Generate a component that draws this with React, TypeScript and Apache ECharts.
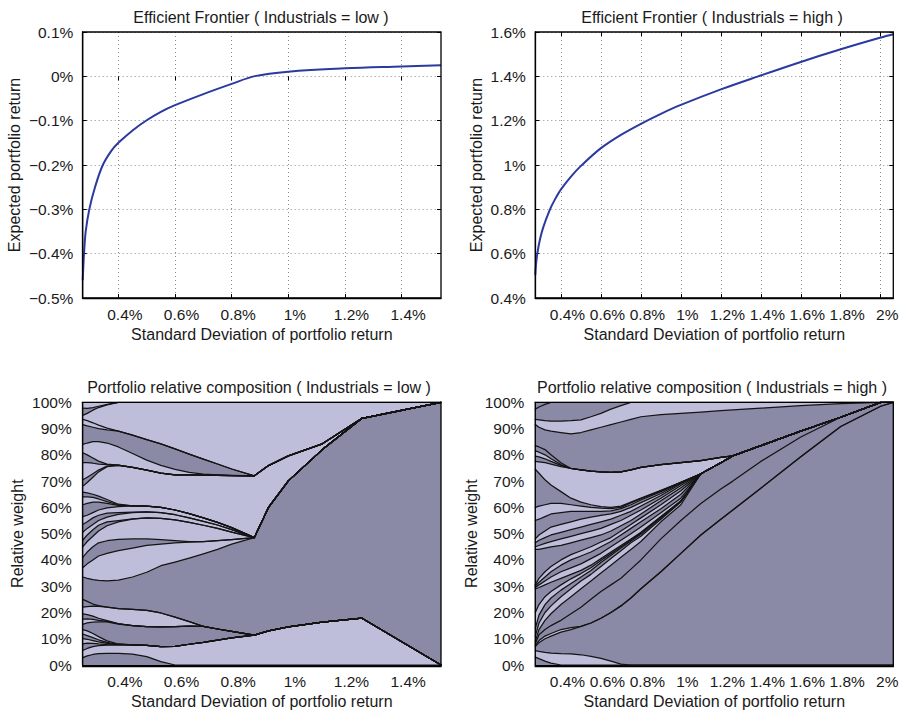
import React, { useEffect, useRef } from 'react';
import * as echarts from 'echarts';

const FONT = '"Liberation Sans", Arial, Helvetica, sans-serif';
const INK = '#1a1a1a';
const LIGHT = '#bebedb';
const DARK = '#8a8aa6';
const CURVE = '#2b3a9e';

// Efficient frontier, Industrials = low  (std dev %, expected return %)
const lowRisk = [0.274, 0.2765, 0.2786, 0.2846, 0.2973, 0.3174, 0.345, 0.375, 0.40, 0.45, 0.50, 0.55, 0.60, 0.70, 0.80, 0.882, 1.0, 1.2, 1.4, 1.539];
const lowReturn = [-0.46, -0.425, -0.40, -0.35, -0.30, -0.25, -0.20, -0.168, -0.150, -0.122, -0.099, -0.080, -0.065, -0.040, -0.017, 0.0005, 0.0105, 0.018, 0.0222, 0.025];

// Efficient frontier, Industrials = high
const highRisk = [0.2715, 0.2755, 0.2815, 0.295, 0.3115, 0.345, 0.37, 0.40, 0.45, 0.50, 0.60, 0.70, 0.80, 0.90, 1.0, 1.2, 1.387, 1.6, 1.8, 2.0, 2.063];
const highReturn = [0.504, 0.555, 0.60, 0.665, 0.72, 0.80, 0.845, 0.89, 0.948, 0.996, 1.076, 1.136, 1.186, 1.231, 1.271, 1.341, 1.40, 1.465, 1.522, 1.575, 1.59];

const lowTicks = [0.4, 0.6, 0.8, 1.0, 1.2, 1.4];
const highTicks = [0.4, 0.6, 0.8, 1.0, 1.2, 1.4, 1.6, 1.8, 2.0];
const lowRange = [0.274, 1.539];
const highRange = [0.2715, 2.063];

// Portfolio composition, Industrials = low: cumulative weight (%) at the top of each asset, bottom to top
const lowSigma = [0.274, 0.29, 0.31, 0.33, 0.36, 0.40, 0.45, 0.50, 0.55, 0.60, 0.65, 0.70, 0.75, 0.80, 0.88, 0.93, 1.00, 1.12, 1.26, 1.539];
const lowShades = ['D', 'L', 'D', 'L', 'D', 'L', 'D', 'L', 'D', 'L', 'D', 'D', 'L', 'D', 'L', 'D', 'L', 'D', 'L', 'D', 'L', 'D', 'L', 'D', 'L', 'D', 'L', 'D', 'L', 'L', 'D', 'L'];
const lowCumWeights = [
  [2.8, 3.5, 4.0, 4.3, 4.4, 4.4, 4.1, 3.2, 1.3, 0, 0, 0, 0, 0, 0, 0, 0, 0, 0, 0],
  [5.5, 6.3, 7.0, 7.4, 7.6, 7.7, 7.7, 7.5, 7.0, 7.1, 7.9, 8.6, 9.5, 10.3, 11.4, 13.0, 14.5, 16.3, 17.8, 0],
  [8.0, 8.3, 8.2, 8.0, 7.8, 7.7, 7.7, 7.5, 7.0, 7.1, 7.9, 8.6, 9.5, 10.3, 11.4, 13.0, 14.5, 16.3, 17.8, 0],
  [10.0, 9.8, 9.3, 8.8, 8.2, 7.8, 7.7, 7.5, 7.0, 7.1, 7.9, 8.6, 9.5, 10.3, 11.4, 13.0, 14.5, 16.3, 17.8, 0],
  [11.8, 11.2, 10.4, 9.6, 8.6, 7.9, 7.7, 7.5, 7.0, 7.1, 7.9, 8.6, 9.5, 10.3, 11.4, 13.0, 14.5, 16.3, 17.8, 0],
  [13.5, 13.0, 12.0, 10.8, 9.2, 8.0, 7.7, 7.5, 7.0, 7.1, 7.9, 8.6, 9.5, 10.3, 11.4, 13.0, 14.5, 16.3, 17.8, 0],
  [15.5, 16.0, 16.3, 16.4, 16.4, 15.6, 15.0, 14.6, 14.5, 14.6, 14.8, 14.7, 13.7, 12.8, 11.4, 13.0, 14.5, 16.3, 17.8, 0],
  [17.5, 17.6, 17.4, 17.0, 16.6, 15.7, 15.0, 14.6, 14.5, 14.6, 14.8, 14.7, 13.7, 12.8, 11.4, 13.0, 14.5, 16.3, 17.8, 0],
  [19.5, 19.2, 18.6, 17.8, 16.9, 15.8, 15.0, 14.6, 14.5, 14.6, 14.8, 14.7, 13.7, 12.8, 11.4, 13.0, 14.5, 16.3, 17.8, 0],
  [22.0, 22.2, 22.4, 22.3, 22.0, 21.5, 21.2, 20.8, 19.8, 18.2, 16.5, 14.7, 13.7, 12.8, 11.4, 13.0, 14.5, 16.3, 17.8, 0],
  [25.0, 24.2, 23.2, 22.6, 22.0, 21.5, 21.2, 20.8, 19.8, 18.2, 16.5, 14.7, 13.7, 12.8, 11.4, 13.0, 14.5, 16.3, 17.8, 0],
  [33.5, 33.0, 32.5, 32.2, 32.0, 32.3, 33.5, 35.3, 37.8, 39.2, 40.7, 42.3, 44.0, 46.0, 48.5, 60.0, 70.1, 82.0, 93.9, 100],
  [37.0, 38.5, 40.0, 41.5, 42.5, 43.5, 44.5, 45.5, 46.0, 46.5, 46.8, 47.0, 47.3, 47.7, 48.5, 60.0, 70.1, 82.0, 93.9, 100],
  [41.0, 43.0, 45.0, 46.5, 47.3, 47.8, 48.0, 48.0, 47.7, 47.3, 47.0, 47.0, 47.3, 47.7, 48.5, 60.0, 70.1, 82.0, 93.9, 100],
  [45.0, 47.0, 49.0, 51.0, 53.0, 54.5, 55.5, 56.0, 55.8, 55.2, 54.3, 53.2, 52.0, 50.6, 48.5, 60.0, 70.1, 82.0, 93.9, 100],
  [47.5, 49.5, 51.5, 53.2, 54.5, 55.0, 55.6, 56.0, 55.8, 55.2, 54.3, 53.2, 52.0, 50.6, 48.5, 60.0, 70.1, 82.0, 93.9, 100],
  [50.5, 52.0, 53.5, 55.0, 56.3, 57.3, 58.0, 58.3, 58.0, 57.2, 56.0, 54.7, 53.3, 51.5, 48.5, 60.0, 70.1, 82.0, 93.9, 100],
  [53.5, 54.5, 56.0, 57.0, 57.8, 58.0, 58.2, 58.3, 58.0, 57.2, 56.0, 54.7, 53.3, 51.5, 48.5, 60.0, 70.1, 82.0, 93.9, 100],
  [56.5, 57.0, 58.0, 59.0, 59.8, 60.3, 60.6, 60.5, 60.0, 59.0, 57.6, 56.0, 54.3, 52.3, 48.5, 60.0, 70.1, 82.0, 93.9, 100],
  [61.0, 61.5, 62.0, 62.0, 61.5, 60.8, 60.6, 60.5, 60.0, 59.0, 57.6, 56.0, 54.3, 52.3, 48.5, 60.0, 70.1, 82.0, 93.9, 100],
  [64.0, 64.0, 63.8, 63.2, 62.2, 61.0, 60.6, 60.5, 60.0, 59.0, 57.6, 56.0, 54.3, 52.3, 48.5, 60.0, 70.1, 82.0, 93.9, 100],
  [65.8, 65.5, 65.0, 64.3, 63.0, 61.2, 60.6, 60.5, 60.0, 59.0, 57.6, 56.0, 54.3, 52.3, 48.5, 60.0, 70.1, 82.0, 93.9, 100],
  [68.0, 69.5, 71.5, 73.5, 75.5, 76.0, 75.2, 74.2, 73.0, 72.4, 72.4, 72.3, 72.2, 72.1, 72.0, 75.9, 79.6, 84.2, 93.9, 100],
  [70.5, 71.5, 72.8, 74.2, 75.7, 76.0, 75.2, 74.2, 73.0, 72.4, 72.4, 72.3, 72.2, 72.1, 72.0, 75.9, 79.6, 84.2, 93.9, 100],
  [77.0, 77.0, 76.8, 76.5, 76.3, 76.1, 75.2, 74.2, 73.0, 72.4, 72.4, 72.3, 72.2, 72.1, 72.0, 75.9, 79.6, 84.2, 93.9, 100],
  [80.8, 80.0, 78.8, 77.6, 76.5, 76.1, 75.2, 74.2, 73.0, 72.4, 72.4, 72.3, 72.2, 72.1, 72.0, 75.9, 79.6, 84.2, 93.9, 100],
  [84.0, 84.5, 85.0, 85.0, 84.5, 83.0, 80.5, 78.0, 76.0, 74.5, 73.3, 72.7, 72.4, 72.2, 72.0, 75.9, 79.6, 84.2, 93.9, 100],
  [91.5, 91.0, 90.5, 90.0, 89.5, 89.0, 87.5, 85.8, 84.2, 82.3, 80.3, 78.4, 76.5, 74.6, 72.0, 75.9, 79.6, 84.2, 93.9, 100],
  [93.5, 93.0, 92.2, 91.3, 90.2, 89.0, 87.5, 85.8, 84.2, 82.3, 80.3, 78.4, 76.5, 74.6, 72.0, 75.9, 79.6, 84.2, 93.9, 100],
  [95.0, 95.8, 97.0, 98.0, 99.0, 100, 100, 100, 100, 100, 100, 100, 100, 100, 100, 100, 100, 100, 100, 100],
  [97.8, 97.7, 98.0, 98.5, 99.2, 100, 100, 100, 100, 100, 100, 100, 100, 100, 100, 100, 100, 100, 100, 100],
  [100, 100, 100, 100, 100, 100, 100, 100, 100, 100, 100, 100, 100, 100, 100, 100, 100, 100, 100, 100],
];

// Portfolio composition, Industrials = high
const highSigma = [0.2715, 0.29, 0.32, 0.35, 0.40, 0.45, 0.50, 0.55, 0.60, 0.65, 0.70, 0.75, 0.80, 0.90, 1.00, 1.10, 1.20, 1.26, 1.40, 1.60, 1.80, 2.00, 2.063];
const highShades = ['D', 'L', 'D', 'L', 'D', 'D', 'L', 'D', 'L', 'D', 'L', 'D', 'L', 'D', 'L', 'D', 'L', 'D', 'L', 'D', 'L', 'D', 'L', 'D', 'D', 'L', 'D', 'D'];
const highCumWeights = [
  [3.0, 2.4, 1.5, 0.7, 0, 0, 0, 0, 0, 0, 0, 0, 0, 0, 0, 0, 0, 0, 0, 0, 0, 0, 0],
  [5.5, 5.2, 4.8, 4.5, 4.3, 4.2, 3.9, 3.3, 2.5, 1.5, 0.3, 0, 0, 0, 0, 0, 0, 0, 0, 0, 0, 0, 0],
  [7.0, 8.5, 10.0, 11.0, 12.5, 13.5, 14.7, 16.0, 17.8, 20.0, 22.5, 25.5, 29.0, 35.5, 42.5, 49.5, 55.5, 59.0, 67.3, 79.3, 90.8, 98.5, 100],
  [7.3, 9.3, 11.0, 12.0, 13.5, 14.2, 14.7, 16.0, 17.8, 20.0, 22.5, 25.5, 29.0, 35.5, 42.5, 49.5, 55.5, 59.0, 67.3, 79.3, 90.8, 98.5, 100],
  [8.0, 11.5, 13.5, 15.0, 17.0, 19.5, 22.0, 25.0, 28.0, 30.5, 33.0, 36.5, 40.0, 48.0, 55.0, 61.5, 67.0, 70.0, 77.5, 86.8, 94.3, 100, 100],
  [9.0, 13.5, 17.0, 19.5, 23.0, 26.0, 29.0, 32.0, 35.0, 38.0, 41.0, 44.0, 47.0, 54.5, 61.0, 72.8, 77.0, 79.6, 83.5, 89.0, 94.3, 100, 100],
  [11.0, 16.0, 20.0, 22.5, 26.0, 29.0, 32.0, 34.5, 37.5, 40.5, 43.5, 46.5, 49.0, 55.5, 62.0, 72.8, 77.0, 79.6, 83.5, 89.0, 94.3, 100, 100],
  [14.0, 19.0, 23.0, 25.5, 28.5, 31.0, 33.5, 36.0, 39.0, 41.8, 44.5, 47.2, 49.8, 56.0, 62.3, 72.8, 77.0, 79.6, 83.5, 89.0, 94.3, 100, 100],
  [20.0, 23.0, 26.0, 28.0, 30.5, 32.8, 34.8, 37.0, 39.8, 42.4, 45.0, 47.6, 50.2, 56.3, 62.4, 72.8, 77.0, 79.6, 83.5, 89.0, 94.3, 100, 100],
  [29.0, 29.5, 30.5, 31.5, 33.0, 34.5, 36.0, 38.0, 40.5, 43.0, 45.5, 48.0, 50.5, 56.5, 62.5, 72.8, 77.0, 79.6, 83.5, 89.0, 94.3, 100, 100],
  [29.5, 30.5, 32.0, 33.5, 35.5, 37.0, 38.5, 40.5, 42.5, 45.0, 47.5, 50.0, 52.5, 58.0, 63.5, 72.8, 77.0, 79.6, 83.5, 89.0, 94.3, 100, 100],
  [30.0, 31.5, 33.5, 35.5, 38.0, 40.0, 41.5, 43.0, 45.0, 47.0, 49.5, 52.0, 54.5, 59.5, 65.0, 72.8, 77.0, 79.6, 83.5, 89.0, 94.3, 100, 100],
  [30.5, 33.0, 35.5, 37.5, 40.0, 42.0, 43.5, 45.0, 46.8, 48.5, 51.0, 53.5, 56.0, 61.0, 66.3, 72.8, 77.0, 79.6, 83.5, 89.0, 94.3, 100, 100],
  [44.0, 44.0, 44.5, 45.0, 45.5, 46.5, 47.5, 48.5, 49.5, 51.0, 53.0, 55.0, 57.5, 62.5, 67.5, 72.8, 77.0, 79.6, 83.5, 89.0, 94.3, 100, 100],
  [45.0, 45.5, 46.3, 47.0, 48.0, 49.0, 50.0, 51.0, 52.0, 53.5, 55.0, 57.0, 59.0, 63.5, 68.3, 72.8, 77.0, 79.6, 83.5, 89.0, 94.3, 100, 100],
  [46.5, 47.5, 48.5, 49.5, 50.5, 51.5, 52.5, 53.5, 54.5, 55.5, 57.0, 58.5, 60.5, 64.5, 69.0, 72.8, 77.0, 79.6, 83.5, 89.0, 94.3, 100, 100],
  [48.0, 49.5, 51.0, 52.5, 53.5, 54.5, 55.5, 56.3, 57.0, 57.5, 58.5, 60.0, 61.8, 65.3, 69.3, 72.8, 77.0, 79.6, 83.5, 89.0, 94.3, 100, 100],
  [55.0, 55.5, 56.5, 57.5, 58.0, 58.5, 58.5, 58.5, 58.5, 58.7, 59.5, 61.0, 62.8, 66.0, 69.5, 72.8, 77.0, 79.6, 83.5, 89.0, 94.3, 100, 100],
  [60.0, 60.5, 61.0, 61.5, 61.5, 61.0, 60.5, 60.0, 59.7, 59.5, 60.0, 61.7, 63.3, 66.3, 69.5, 72.8, 77.0, 79.6, 83.5, 89.0, 94.3, 100, 100],
  [74.5, 73.0, 70.5, 68.5, 66.0, 63.5, 62.0, 61.0, 60.3, 60.0, 60.5, 62.0, 63.5, 66.5, 69.5, 72.8, 77.0, 79.6, 83.5, 89.0, 94.3, 100, 100],
  [77.5, 77.3, 77.0, 76.5, 75.5, 74.8, 74.3, 73.8, 73.5, 73.3, 73.5, 74.3, 75.2, 76.3, 77.0, 77.8, 79.0, 79.6, 83.5, 89.0, 94.3, 100, 100],
  [79.5, 79.2, 78.5, 77.5, 76.0, 74.8, 74.3, 73.8, 73.5, 73.3, 73.5, 74.3, 75.2, 76.3, 77.0, 77.8, 79.0, 79.6, 83.5, 89.0, 94.3, 100, 100],
  [81.5, 81.0, 80.0, 78.5, 76.3, 74.8, 74.3, 73.8, 73.5, 73.3, 73.5, 74.3, 75.2, 76.3, 77.0, 77.8, 79.0, 79.6, 83.5, 89.0, 94.3, 100, 100],
  [83.5, 83.0, 82.0, 80.0, 77.0, 74.8, 74.3, 73.8, 73.5, 73.3, 73.5, 74.3, 75.2, 76.3, 77.0, 77.8, 79.0, 79.6, 83.5, 89.0, 94.3, 100, 100],
  [91.5, 90.5, 89.5, 89.0, 88.5, 88.0, 88.5, 89.5, 90.5, 91.5, 92.5, 93.5, 94.5, 95.3, 95.8, 96.3, 96.8, 97.1, 97.8, 98.7, 99.5, 100, 100],
  [93.5, 93.3, 93.0, 92.8, 92.8, 93.0, 93.3, 94.5, 95.8, 97.4, 98.7, 100, 100, 100, 100, 100, 100, 100, 100, 100, 100, 100, 100],
  [97.4, 98.2, 99.2, 100, 100, 100, 100, 100, 100, 100, 100, 100, 100, 100, 100, 100, 100, 100, 100, 100, 100, 100, 100],
  [100, 100, 100, 100, 100, 100, 100, 100, 100, 100, 100, 100, 100, 100, 100, 100, 100, 100, 100, 100, 100, 100, 100],
];

const GRIDS = [
  { left: 82.7, top: 32, width: 358.3, height: 266 },
  { left: 535.3, top: 32, width: 358, height: 266 },
  { left: 82.7, top: 402.3, width: 358.3, height: 264.4 },
  { left: 535.3, top: 402.3, width: 358, height: 264.4 },
];

const TITLES = [
  { text: 'Efficient Frontier ( Industrials = low )', x: 261, y: 17 },
  { text: 'Efficient Frontier ( Industrials = high )', x: 712, y: 17 },
  { text: 'Portfolio relative composition ( Industrials = low )', x: 259, y: 387 },
  { text: 'Portfolio relative composition ( Industrials = high )', x: 712, y: 387 },
];

function pctLabel(v: number): string {
  const r = Math.round(v * 10) / 10;
  return (r < 0 ? '\u2212' : '') + String(Math.abs(r)) + '%';
}

const gridLine = { show: true, lineStyle: { color: '#8c8c8c', type: [1, 3] as any, width: 1 } };
const innerTick = { show: true, inside: true, length: 4, lineStyle: { color: '#000' } };

function xAxisFor(gridIndex: number, range: number[], ticks: number[], showGrid: boolean) {
  return {
    type: 'value',
    gridIndex,
    min: range[0],
    max: range[1],
    name: 'Standard Deviation of portfolio return',
    nameLocation: 'middle',
    nameGap: 28,
    nameTextStyle: { fontFamily: FONT, fontSize: 16, color: INK },
    axisLine: { show: true, onZero: false, lineStyle: { color: '#000', width: 1.3 } },
    axisTick: { ...innerTick, customValues: ticks },
    axisLabel: {
      customValues: ticks,
      formatter: pctLabel,
      fontFamily: FONT,
      fontSize: 15.5,
      color: INK,
      margin: 8,
      padding: [0, 0, 0, 13],
    },
    splitLine: showGrid ? gridLine : { show: false },
  };
}

function yAxisFor(gridIndex: number, min: number, max: number, interval: number, name: string, nameGap: number, margin: number, showGrid: boolean) {
  return {
    type: 'value',
    gridIndex,
    min,
    max,
    interval,
    name,
    nameLocation: 'middle',
    nameGap,
    nameRotate: 90,
    nameTextStyle: { fontFamily: FONT, fontSize: 16, color: INK },
    axisLine: { show: true, onZero: false, lineStyle: { color: '#000', width: 1.3 } },
    axisTick: innerTick,
    axisLabel: { formatter: pctLabel, fontFamily: FONT, fontSize: 15.5, color: INK, margin },
    splitLine: showGrid ? gridLine : { show: false },
  };
}

// Tick marks repeated on the top and right edges of the frontier boxes
function mirrorX(gridIndex: number, range: number[], ticks: number[]) {
  return {
    type: 'value', gridIndex, position: 'top', min: range[0], max: range[1],
    axisLine: { show: false }, axisLabel: { show: false }, splitLine: { show: false },
    axisTick: { ...innerTick, customValues: ticks },
  };
}
function mirrorY(gridIndex: number, min: number, max: number, interval: number) {
  return {
    type: 'value', gridIndex, position: 'right', min, max, interval,
    axisLine: { show: false }, axisLabel: { show: false }, splitLine: { show: false },
    axisTick: innerTick,
  };
}

// Each cumulative edge is filled down to 0%; drawing from the top edge down leaves one band per asset.
function compositionSeries(sigma: number[], edges: number[][], shades: string[], axisIndex: number) {
  const out: any[] = [];
  for (let i = edges.length - 1; i >= 0; i--) {
    out.push({
      type: 'line',
      xAxisIndex: axisIndex,
      yAxisIndex: axisIndex,
      data: sigma.map((s, j) => [s, edges[i][j]]),
      symbol: 'none',
      silent: true,
      lineStyle: { color: '#141414', width: 1.25, join: 'round', cap: 'round' },
      areaStyle: { color: shades[i] === 'L' ? LIGHT : DARK, opacity: 1, origin: 'start' },
    });
  }
  return out;
}

function frontierSeries(risk: number[], ret: number[], axisIndex: number) {
  return {
    type: 'line',
    xAxisIndex: axisIndex,
    yAxisIndex: axisIndex,
    data: risk.map((x, i) => [x, ret[i]]),
    symbol: 'none',
    smooth: 0.35,
    lineStyle: { color: CURVE, width: 2 },
  };
}

export default function App() {
  const ref = useRef<HTMLDivElement>(null);

  useEffect(() => {
    if (!ref.current) return;
    const chart = echarts.init(ref.current, undefined, { renderer: 'svg' });

    const option: any = {
      animation: false,
      backgroundColor: '#ffffff',
      grid: GRIDS.map((g) => ({ ...g, containLabel: false })),
      xAxis: [
        xAxisFor(0, lowRange, lowTicks, true),
        xAxisFor(1, highRange, highTicks, true),
        xAxisFor(2, lowRange, lowTicks, false),
        xAxisFor(3, highRange, highTicks, false),
        mirrorX(0, lowRange, lowTicks),
        mirrorX(1, highRange, highTicks),
      ],
      yAxis: [
        yAxisFor(0, -0.5, 0.1, 0.1, 'Expected portfolio return', 60, 9.4, true),
        yAxisFor(1, 0.4, 1.6, 0.2, 'Expected portfolio return', 51, 9.4, true),
        yAxisFor(2, 0, 100, 10, 'Relative weight', 57, 11, false),
        yAxisFor(3, 0, 100, 10, 'Relative weight', 56, 11, false),
        mirrorY(0, -0.5, 0.1, 0.1),
        mirrorY(1, 0.4, 1.6, 0.2),
      ],
      series: [
        frontierSeries(lowRisk, lowReturn, 0),
        frontierSeries(highRisk, highReturn, 1),
        ...compositionSeries(lowSigma, lowCumWeights, lowShades, 2),
        ...compositionSeries(highSigma, highCumWeights, highShades, 3),
      ],
      graphic: [
        ...TITLES.map((t) => ({
          type: 'text',
          x: t.x,
          y: t.y,
          silent: true,
          style: {
            text: t.text,
            font: `16px ${FONT}`,
            fill: INK,
            textAlign: 'center',
            textVerticalAlign: 'middle',
          },
        })),
        ...GRIDS.map((g) => ({
          type: 'rect',
          silent: true,
          z: 100,
          shape: { x: g.left, y: g.top, width: g.width, height: g.height },
          style: { fill: 'none', stroke: '#000', lineWidth: 1.3 },
        })),
      ],
    };

    chart.setOption(option);
    return () => chart.dispose();
  }, []);

  return (
    <div
      ref={ref}
      style={{ position: 'fixed', left: 0, top: 0, width: 903, height: 710, background: '#fff' }}
    />
  );
}
